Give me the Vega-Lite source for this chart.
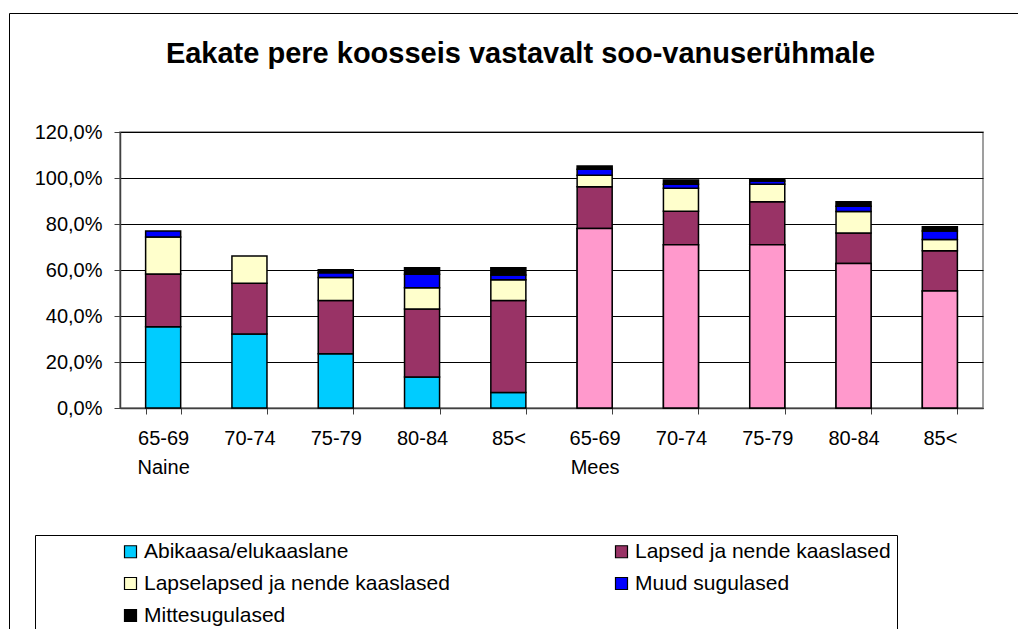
{
  "$schema": "https://vega.github.io/schema/vega-lite/v6.json",
  "autosize": "none",
  "width": 863,
  "height": 276,
  "padding": {"left": 120, "top": 132, "right": 35, "bottom": 221},
  "background": "white",
  "title": {
    "text": "Eakate pere koosseis vastavalt soo-vanuserühmale",
    "anchor": "middle",
    "frame": "group",
    "dx": -31,
    "dy": 110,
    "offset": 54,
    "font": "Liberation Sans",
    "fontSize": 29,
    "fontWeight": "bold",
    "color": "black"
  },
  "data": {
    "values": [
      {"sex": "Naine", "age": "65-69", "series": "Abikaasa/elukaaslane", "value": 35.3},
      {"sex": "Naine", "age": "65-69", "series": "Lapsed ja nende kaaslased", "value": 23.0},
      {"sex": "Naine", "age": "65-69", "series": "Lapselapsed ja nende kaaslased", "value": 16.0},
      {"sex": "Naine", "age": "65-69", "series": "Muud sugulased", "value": 2.7},
      {"sex": "Naine", "age": "70-74", "series": "Abikaasa/elukaaslane", "value": 32.2},
      {"sex": "Naine", "age": "70-74", "series": "Lapsed ja nende kaaslased", "value": 22.0},
      {"sex": "Naine", "age": "70-74", "series": "Lapselapsed ja nende kaaslased", "value": 11.9},
      {"sex": "Naine", "age": "75-79", "series": "Abikaasa/elukaaslane", "value": 23.6},
      {"sex": "Naine", "age": "75-79", "series": "Lapsed ja nende kaaslased", "value": 23.1},
      {"sex": "Naine", "age": "75-79", "series": "Lapselapsed ja nende kaaslased", "value": 10.0},
      {"sex": "Naine", "age": "75-79", "series": "Muud sugulased", "value": 2.1},
      {"sex": "Naine", "age": "75-79", "series": "Mittesugulased", "value": 1.3},
      {"sex": "Naine", "age": "80-84", "series": "Abikaasa/elukaaslane", "value": 13.5},
      {"sex": "Naine", "age": "80-84", "series": "Lapsed ja nende kaaslased", "value": 29.5},
      {"sex": "Naine", "age": "80-84", "series": "Lapselapsed ja nende kaaslased", "value": 9.3},
      {"sex": "Naine", "age": "80-84", "series": "Muud sugulased", "value": 5.8},
      {"sex": "Naine", "age": "80-84", "series": "Mittesugulased", "value": 2.9},
      {"sex": "Naine", "age": "85<", "series": "Abikaasa/elukaaslane", "value": 6.7},
      {"sex": "Naine", "age": "85<", "series": "Lapsed ja nende kaaslased", "value": 40.0},
      {"sex": "Naine", "age": "85<", "series": "Lapselapsed ja nende kaaslased", "value": 9.1},
      {"sex": "Naine", "age": "85<", "series": "Muud sugulased", "value": 2.0},
      {"sex": "Naine", "age": "85<", "series": "Mittesugulased", "value": 3.2},
      {"sex": "Mees", "age": "65-69", "series": "Abikaasa/elukaaslane", "value": 78.0},
      {"sex": "Mees", "age": "65-69", "series": "Lapsed ja nende kaaslased", "value": 18.2},
      {"sex": "Mees", "age": "65-69", "series": "Lapselapsed ja nende kaaslased", "value": 5.0},
      {"sex": "Mees", "age": "65-69", "series": "Muud sugulased", "value": 2.6},
      {"sex": "Mees", "age": "65-69", "series": "Mittesugulased", "value": 1.4},
      {"sex": "Mees", "age": "70-74", "series": "Abikaasa/elukaaslane", "value": 71.0},
      {"sex": "Mees", "age": "70-74", "series": "Lapsed ja nende kaaslased", "value": 14.5},
      {"sex": "Mees", "age": "70-74", "series": "Lapselapsed ja nende kaaslased", "value": 10.0},
      {"sex": "Mees", "age": "70-74", "series": "Muud sugulased", "value": 1.8},
      {"sex": "Mees", "age": "70-74", "series": "Mittesugulased", "value": 1.8},
      {"sex": "Mees", "age": "75-79", "series": "Abikaasa/elukaaslane", "value": 71.0},
      {"sex": "Mees", "age": "75-79", "series": "Lapsed ja nende kaaslased", "value": 18.7},
      {"sex": "Mees", "age": "75-79", "series": "Lapselapsed ja nende kaaslased", "value": 7.6},
      {"sex": "Mees", "age": "75-79", "series": "Muud sugulased", "value": 1.4},
      {"sex": "Mees", "age": "75-79", "series": "Mittesugulased", "value": 0.7},
      {"sex": "Mees", "age": "80-84", "series": "Abikaasa/elukaaslane", "value": 62.8},
      {"sex": "Mees", "age": "80-84", "series": "Lapsed ja nende kaaslased", "value": 13.3},
      {"sex": "Mees", "age": "80-84", "series": "Lapselapsed ja nende kaaslased", "value": 9.3},
      {"sex": "Mees", "age": "80-84", "series": "Muud sugulased", "value": 2.3},
      {"sex": "Mees", "age": "80-84", "series": "Mittesugulased", "value": 2.0},
      {"sex": "Mees", "age": "85<", "series": "Abikaasa/elukaaslane", "value": 50.9},
      {"sex": "Mees", "age": "85<", "series": "Lapsed ja nende kaaslased", "value": 17.5},
      {"sex": "Mees", "age": "85<", "series": "Lapselapsed ja nende kaaslased", "value": 4.9},
      {"sex": "Mees", "age": "85<", "series": "Muud sugulased", "value": 3.7},
      {"sex": "Mees", "age": "85<", "series": "Mittesugulased", "value": 1.8}
    ]
  },
  "transform": [
    {"calculate": "datum.sex + '|' + datum.age", "as": "key"},
    {"calculate": "indexof(['Abikaasa/elukaaslane','Lapsed ja nende kaaslased','Lapselapsed ja nende kaaslased','Muud sugulased','Mittesugulased'], datum.series)", "as": "ord"}
  ],
  "encoding": {
    "x": {
      "field": "key",
      "type": "nominal",
      "sort": null,
      "scale": {"paddingInner": 0.594, "paddingOuter": 0.297},
      "axis": {
        "title": null,
        "labelAngle": 0,
        "labelExpr": "!isString(datum.value) ? '' : (indexof(datum.value, '65-69') >= 0 ? [split(datum.value, '|')[1], split(datum.value, '|')[0]] : split(datum.value, '|')[1])",
        "labelFont": "Liberation Sans",
        "labelFontSize": 20,
        "labelColor": "black",
        "labelPadding": 14,
        "labelLineHeight": 29,
        "tickBand": "extent",
        "tickSize": 6,
        "tickColor": "#404040",
        "domainColor": "#404040",
        "domainWidth": 1.5
      }
    },
    "y": {
      "field": "value",
      "type": "quantitative",
      "scale": {"domain": [0, 120], "nice": false},
      "axis": {
        "title": null,
        "values": [0, 20, 40, 60, 80, 100, 120],
        "labelExpr": "replace(format(datum.value, '.1f'), '.', ',') + '%'",
        "labelFont": "Liberation Sans",
        "labelFontSize": 20,
        "labelColor": "black",
        "labelPadding": 12,
        "tickSize": 6,
        "tickColor": "#404040",
        "domainColor": "#404040",
        "domainWidth": 1.5,
        "grid": true,
        "gridColor": "black",
        "gridWidth": 1
      }
    }
  },
  "layer": [
    {
      "mark": {"type": "bar", "stroke": "black", "strokeWidth": 1.5},
      "encoding": {
        "color": {
          "field": "series",
          "type": "nominal",
          "scale": {
            "domain": ["Abikaasa/elukaaslane", "Lapsed ja nende kaaslased", "Lapselapsed ja nende kaaslased", "Muud sugulased", "Mittesugulased"],
            "range": ["#00CCFF", "#993366", "#FFFFCC", "#0000FF", "#000000"]
          },
          "legend": {
            "title": " ",
            "titleOrient": "left",
            "titleFontSize": 1,
            "titlePadding": 79,
            "orient": "none",
            "direction": "horizontal",
            "legendX": -85,
            "legendY": 403,
            "columns": 2,
            "columnPadding": 161,
            "rowPadding": 10,
            "padding": 6,
            "strokeColor": "black",
            "fillColor": "white",
            "symbolType": "square",
            "symbolSize": 144,
            "symbolStrokeColor": "black",
            "symbolStrokeWidth": 1.2,
            "symbolOpacity": 1,
            "labelFont": "Liberation Sans",
            "labelFontSize": 21,
            "labelColor": "black",
            "labelOffset": 3,
            "labelLimit": 500
          }
        },
        "order": {"field": "ord", "type": "quantitative"}
      }
    },
    {
      "transform": [{"filter": "datum.sex == 'Mees' && datum.series == 'Abikaasa/elukaaslane'"}],
      "mark": {"type": "bar", "fill": "#FF99CC", "stroke": "black", "strokeWidth": 1.5},
      "encoding": {
        "opacity": {
          "field": "sex",
          "type": "nominal",
          "scale": {"range": [1, 1]},
          "legend": {
            "title": null,
            "orient": "none",
            "legendX": -111,
            "legendY": -119,
            "padding": 1200,
            "strokeColor": "black",
            "symbolSize": 0,
            "symbolOpacity": 0,
            "labelExpr": "''",
            "labelFontSize": 1
          }
        }
      }
    }
  ],
  "config": {
    "view": {"stroke": "#808080", "strokeWidth": 1.5}
  }
}
